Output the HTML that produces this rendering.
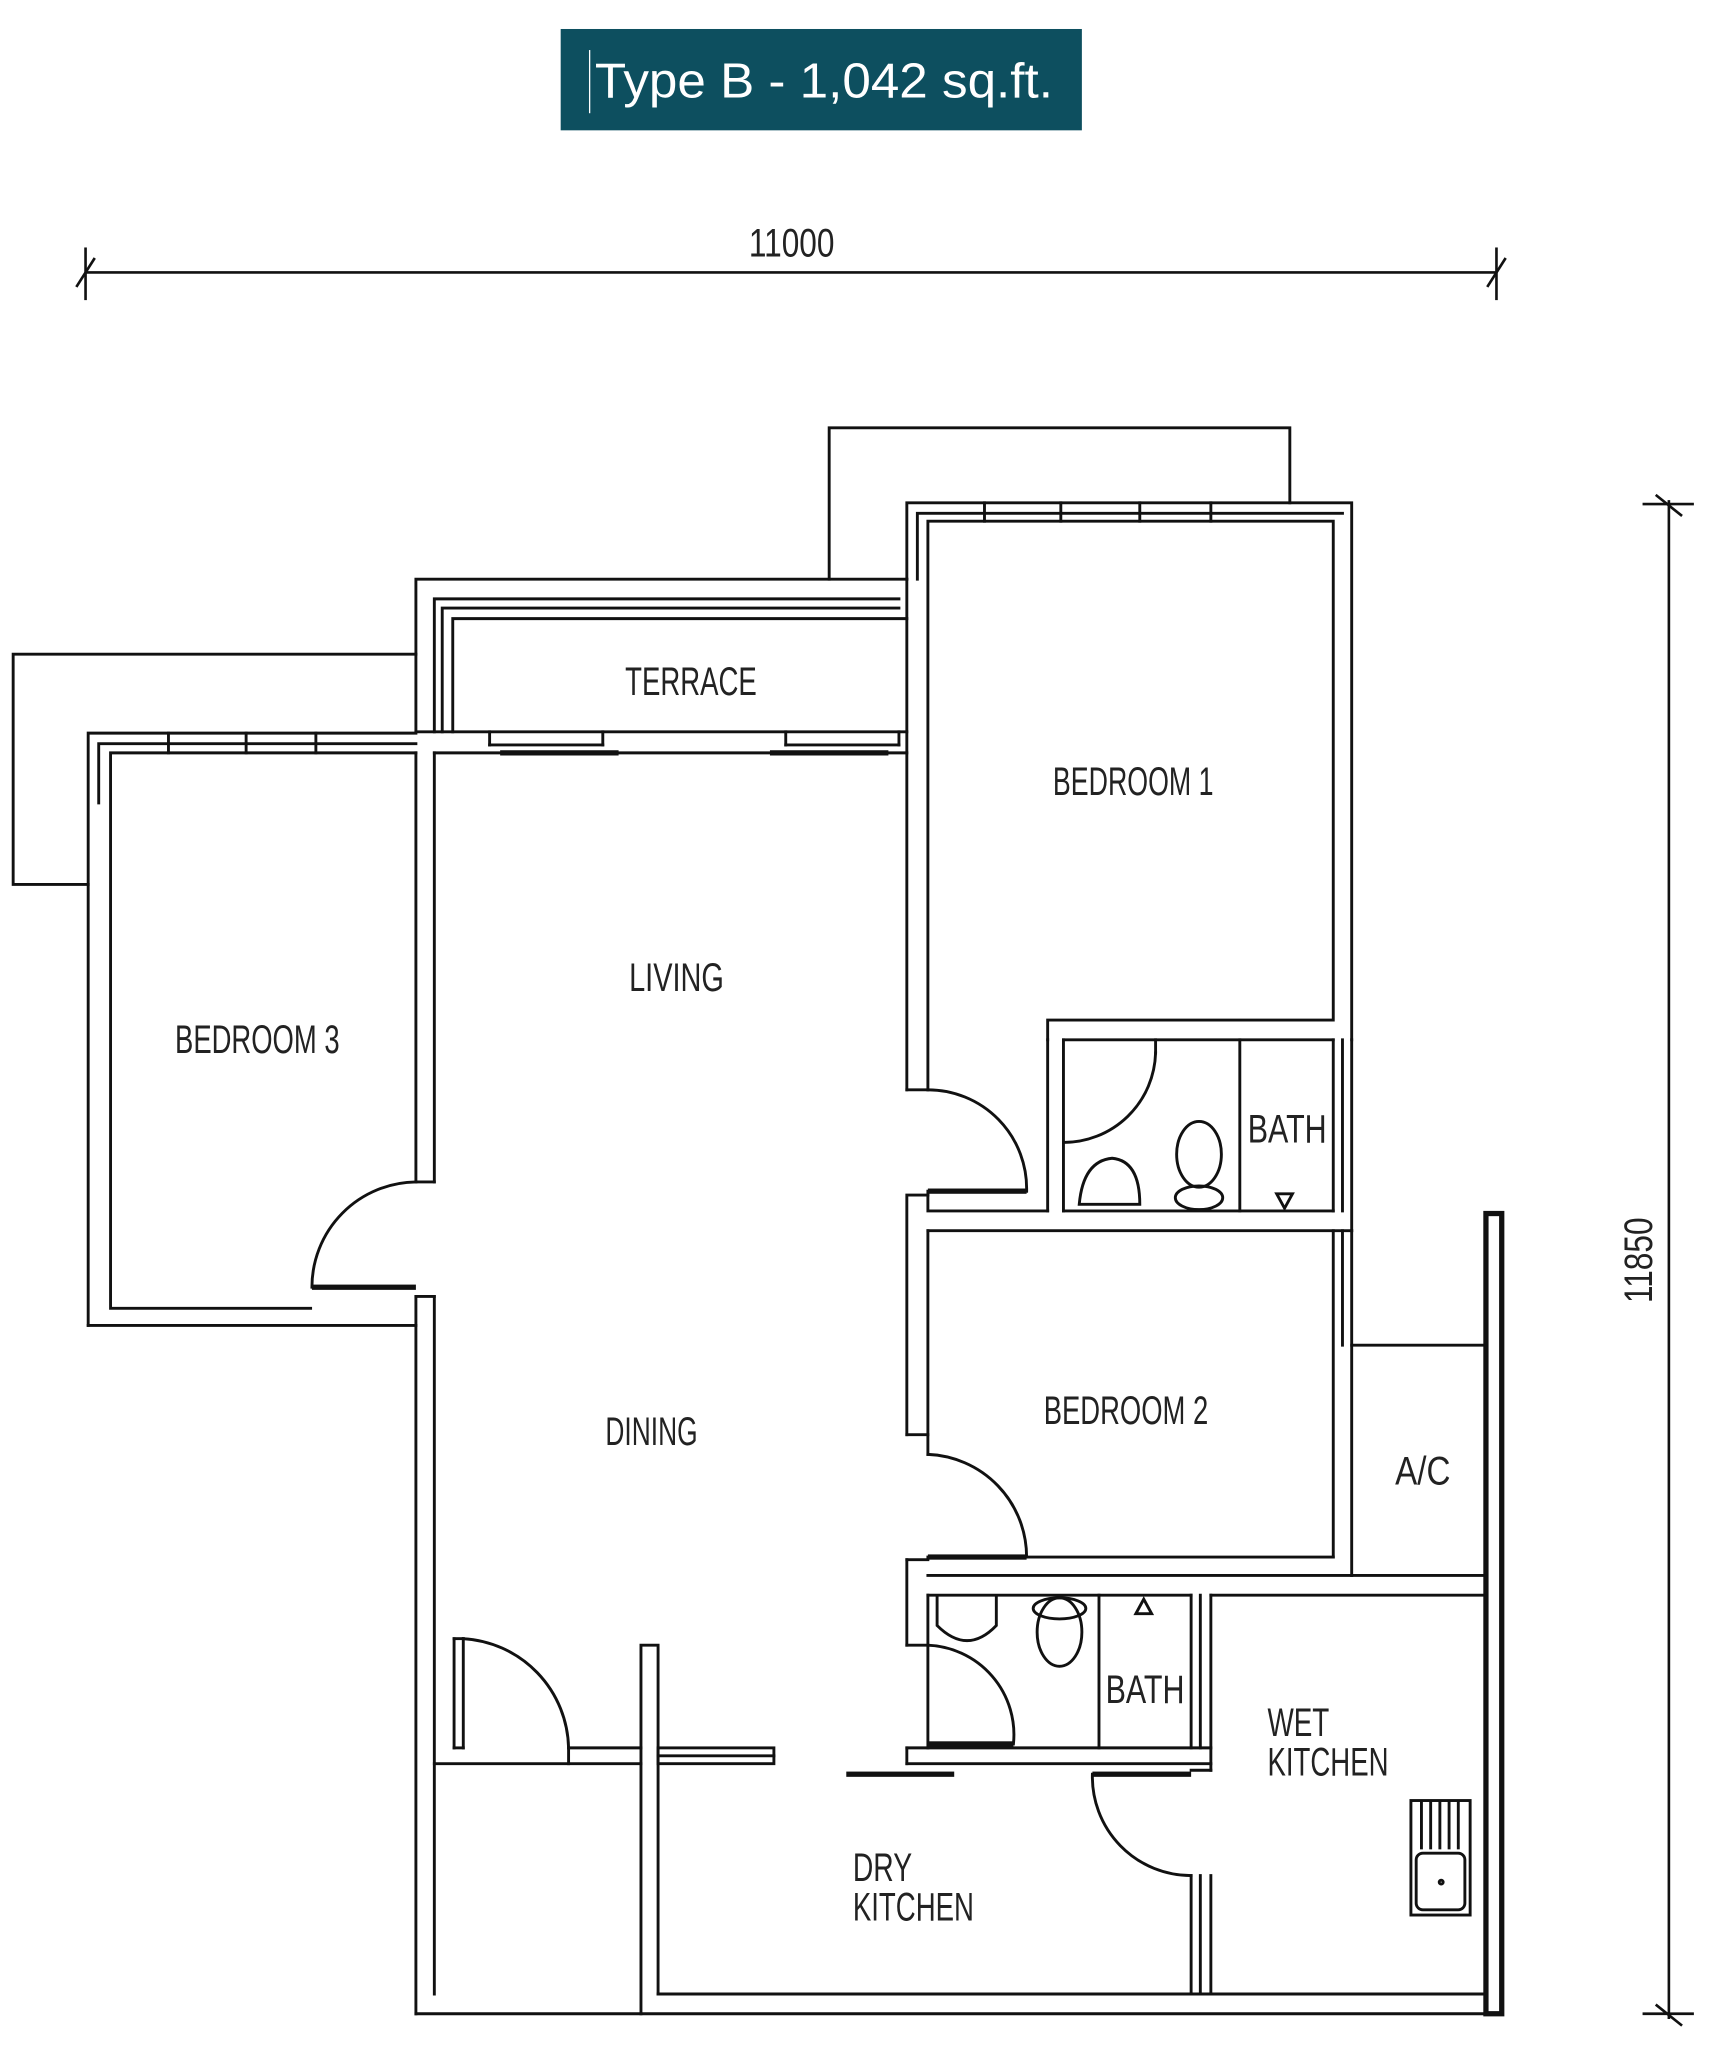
<!DOCTYPE html>
<html><head><meta charset="utf-8"><style>
html,body{margin:0;padding:0;background:#fff;}
svg{display:block;}
text{font-family:"Liberation Sans",sans-serif;fill:#222;}
</style></head><body>
<svg width="1711" height="2048" viewBox="0 0 1300 1556" xmlns="http://www.w3.org/2000/svg">
<rect x="426" y="22" width="396" height="77" fill="#0d4f5f"/>
<line x1="448" y1="38" x2="448" y2="86" stroke="#fff" stroke-width="1"/>
<text x="452" y="74" font-size="37" textLength="348" lengthAdjust="spacingAndGlyphs" style="fill:#fff">Type B - 1,042 sq.ft.</text>

<g stroke="#111" stroke-width="2" fill="none">
<line x1="65" y1="207" x2="1137" y2="207"/>
<line x1="65" y1="188" x2="65" y2="228"/><line x1="1137" y1="188" x2="1137" y2="228"/>
<line x1="58" y1="218" x2="72" y2="196"/><line x1="1130" y1="218" x2="1144" y2="196"/>
<line x1="1268" y1="380" x2="1268" y2="1534"/>
<line x1="1248" y1="383" x2="1287" y2="383"/><line x1="1248" y1="1530" x2="1287" y2="1530"/>
<line x1="1258" y1="376" x2="1278" y2="392"/><line x1="1258" y1="1523" x2="1278" y2="1539"/>
</g>
<text x="569" y="195" font-size="30" textLength="65" lengthAdjust="spacingAndGlyphs">11000</text>
<text transform="translate(1255,990) rotate(-90)" font-size="30" textLength="65" lengthAdjust="spacingAndGlyphs">11850</text>

<g stroke="#111" stroke-width="2.2" fill="none" stroke-linecap="square">
<polyline points="630,440 630,325 980,325 980,382"/>
<polyline points="689,440 689,382 1027,382 1027,790"/>
<polyline points="697,440 697,390 1020,390"/>
<polyline points="705,828 705,396 1013,396 1013,775 796,775 796,790"/>
<line x1="748" y1="382" x2="748" y2="396"/><line x1="806" y1="382" x2="806" y2="396"/>
<line x1="866" y1="382" x2="866" y2="396"/><line x1="920" y1="382" x2="920" y2="396"/>
<line x1="689" y1="440" x2="689" y2="828"/><line x1="689" y1="828" x2="705" y2="828"/>
<polyline points="316,556 316,440 689,440"/>
<polyline points="330,556 330,455 683,455"/>
<polyline points="336,556 336,462 683,462"/>
<polyline points="344,556 344,470 689,470"/>
<line x1="316" y1="556" x2="689" y2="556"/>
<line x1="330" y1="572" x2="380" y2="572"/><line x1="470" y1="572" x2="585" y2="572"/><line x1="675" y1="572" x2="689" y2="572"/>
<line x1="372" y1="556" x2="372" y2="566"/><line x1="458" y1="556" x2="458" y2="566"/>
<line x1="597" y1="556" x2="597" y2="566"/><line x1="683" y1="556" x2="683" y2="566"/>
<line x1="372" y1="566" x2="458" y2="566"/><line x1="597" y1="566" x2="683" y2="566"/>
<polyline points="67,672 10,672 10,497 316,497"/>
<polyline points="67,1007 67,557 316,557"/>
<polyline points="75,610 75,565 316,565"/>
<polyline points="236,994 84,994 84,572 316,572"/>
<line x1="128" y1="557" x2="128" y2="572"/><line x1="187" y1="557" x2="187" y2="572"/><line x1="240" y1="557" x2="240" y2="572"/>
<line x1="67" y1="1007" x2="316" y2="1007"/>
<line x1="316" y1="572" x2="316" y2="898"/><line x1="330" y1="572" x2="330" y2="898"/>
<line x1="316" y1="898" x2="330" y2="898"/>
<path d="M237,978 A80,80 0 0 1 316,898"/>
<line x1="316" y1="985" x2="316" y2="1530"/><line x1="330" y1="985" x2="330" y2="1515"/>
<line x1="316" y1="985" x2="330" y2="985"/>
<line x1="316" y1="1530" x2="1127" y2="1530"/>
<line x1="500" y1="1515" x2="1127" y2="1515"/>
<line x1="330" y1="1340" x2="487" y2="1340"/>
<line x1="345" y1="1328" x2="345" y2="1245"/><line x1="352" y1="1328" x2="352" y2="1245"/>
<line x1="345" y1="1245" x2="352" y2="1245"/>
<path d="M352,1245 A85,85 0 0 1 432,1328"/>
<line x1="432" y1="1328" x2="487" y2="1328"/>
<line x1="432" y1="1328" x2="432" y2="1340"/><line x1="345" y1="1328" x2="352" y2="1328"/>
<polyline points="487,1530 487,1250 500,1250 500,1515"/>
<rect x="500" y="1328" width="88" height="12"/>
<line x1="500" y1="1334" x2="588" y2="1334"/>
<line x1="796" y1="790" x2="796" y2="920"/><line x1="808" y1="790" x2="808" y2="920"/>
<line x1="942" y1="790" x2="942" y2="920"/>
<line x1="808" y1="920" x2="1013" y2="920"/>
<line x1="808" y1="790" x2="1013" y2="790"/>
<line x1="1013" y1="790" x2="1013" y2="920"/><line x1="1020" y1="790" x2="1020" y2="920"/>
<line x1="1027" y1="790" x2="1027" y2="935"/>
<path d="M808,868 A70,70 0 0 0 878,800"/>
<line x1="878" y1="790" x2="878" y2="800"/>
<path d="M705,828 A75,75 0 0 1 780,905"/>
<polyline points="780,905 705,905 705,920 796,920"/>
<polyline points="689,1090 689,908 705,908"/>
<line x1="705" y1="935" x2="1027" y2="935"/>
<line x1="705" y1="935" x2="705" y2="1105"/><line x1="689" y1="1090" x2="705" y2="1090"/>
<line x1="1013" y1="935" x2="1013" y2="1183"/>
<line x1="1020" y1="935" x2="1020" y2="1022"/>
<line x1="1027" y1="935" x2="1027" y2="1197"/>
<path d="M705,1105 A78,78 0 0 1 780,1183"/>
<line x1="705" y1="1183" x2="1013" y2="1183"/>
<line x1="705" y1="1197" x2="1027" y2="1197"/>
<line x1="689" y1="1185" x2="705" y2="1185"/>
<line x1="689" y1="1185" x2="689" y2="1250"/>
<line x1="1027" y1="1022" x2="1127" y2="1022"/>
<line x1="1027" y1="1197" x2="1127" y2="1197"/>
<line x1="920" y1="1212" x2="1127" y2="1212"/>
<line x1="705" y1="1212" x2="905" y2="1212"/>
<line x1="705" y1="1212" x2="705" y2="1328"/>
<line x1="689" y1="1250" x2="705" y2="1250"/>
<path d="M705,1250 A68,68 0 0 1 770,1325"/>
<line x1="835" y1="1212" x2="835" y2="1328"/>
<line x1="905" y1="1212" x2="905" y2="1328"/><line x1="912" y1="1212" x2="912" y2="1328"/>
<line x1="920" y1="1212" x2="920" y2="1345"/>
<line x1="689" y1="1328" x2="920" y2="1328"/>
<line x1="689" y1="1340" x2="920" y2="1340"/>
<line x1="689" y1="1328" x2="689" y2="1340"/>
<line x1="905" y1="1345" x2="920" y2="1345"/>
<path d="M830,1348 A75,75 0 0 0 905,1425"/>
<line x1="905" y1="1425" x2="905" y2="1515"/><line x1="912" y1="1425" x2="912" y2="1515"/><line x1="920" y1="1425" x2="920" y2="1515"/>
<rect x="1072" y="1368" width="45" height="87"/>
<rect x="1076" y="1408" width="37" height="43" rx="5"/>
<circle cx="1095" cy="1430" r="1.5"/>
<line x1="1080" y1="1370" x2="1080" y2="1404"/><line x1="1087" y1="1370" x2="1087" y2="1404"/>
<line x1="1094" y1="1370" x2="1094" y2="1404"/><line x1="1101" y1="1370" x2="1101" y2="1404"/><line x1="1108" y1="1370" x2="1108" y2="1404"/>
<ellipse cx="911" cy="877" rx="17" ry="25"/>
<ellipse cx="911" cy="910" rx="18" ry="9"/>
<path d="M820,915 Q823,882 845,880 Q866,882 866,915 Z"/>
<ellipse cx="805" cy="1240" rx="17" ry="26"/>
<ellipse cx="805" cy="1222" rx="20" ry="8"/>
<path d="M712,1214 L712,1235 Q735,1258 757,1235 L757,1214"/>
<path d="M970,907 L982,907 L976,918 Z"/>
<path d="M863,1226 L875,1226 L869,1215 Z"/>
</g>
<g fill="#111">
<rect x="380" y="570" width="90" height="4"/>
<rect x="585" y="570" width="90" height="4"/>
<rect x="237" y="976" width="79" height="4"/>
<rect x="705" y="903" width="75" height="4"/>
<rect x="705" y="1181" width="75" height="4"/>
<rect x="705" y="1323" width="65" height="4"/>
<rect x="643" y="1346" width="82" height="4"/>
<rect x="830" y="1346" width="75" height="4"/>
<rect x="1127" y="920" width="16" height="612"/>
</g>
<rect x="1131" y="924" width="8" height="604" fill="#fff"/>

<g font-size="30" lengthAdjust="spacingAndGlyphs">
<text x="475" y="528" textLength="100" lengthAdjust="spacingAndGlyphs">TERRACE</text>
<text x="800" y="604" textLength="122" lengthAdjust="spacingAndGlyphs">BEDROOM 1</text>
<text x="478" y="753" textLength="72" lengthAdjust="spacingAndGlyphs">LIVING</text>
<text x="133" y="800" textLength="125" lengthAdjust="spacingAndGlyphs">BEDROOM 3</text>
<text x="948" y="868" textLength="60" lengthAdjust="spacingAndGlyphs">BATH</text>
<text x="793" y="1082" textLength="125" lengthAdjust="spacingAndGlyphs">BEDROOM 2</text>
<text x="1060" y="1128" textLength="42" lengthAdjust="spacingAndGlyphs">A/C</text>
<text x="460" y="1098" textLength="70" lengthAdjust="spacingAndGlyphs">DINING</text>
<text x="840" y="1294" textLength="60" lengthAdjust="spacingAndGlyphs">BATH</text>
<text x="963" y="1319" textLength="47" lengthAdjust="spacingAndGlyphs">WET</text>
<text x="963" y="1349" textLength="92" lengthAdjust="spacingAndGlyphs">KITCHEN</text>
<text x="648" y="1429" textLength="45" lengthAdjust="spacingAndGlyphs">DRY</text>
<text x="648" y="1459" textLength="92" lengthAdjust="spacingAndGlyphs">KITCHEN</text>
</g>
</svg>
</body></html>
